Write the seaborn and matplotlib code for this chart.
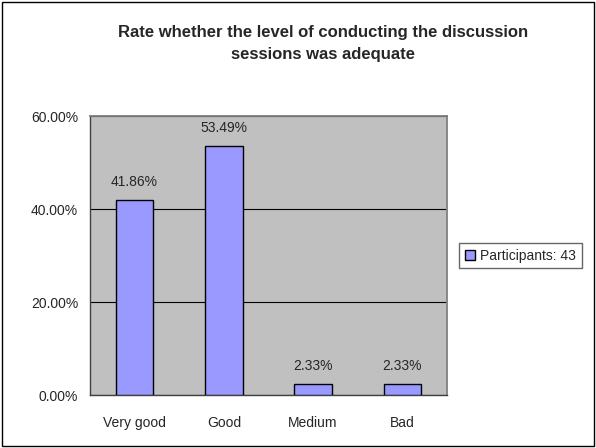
import numpy as np
import pandas as pd
import matplotlib.pyplot as plt
import seaborn as sns
from matplotlib.patches import Rectangle
from matplotlib.ticker import FixedLocator

categorii = ['Very good', 'Good', 'Medium', 'Bad']
procente = [41.86, 53.49, 2.33, 2.33]
etichete_y = ['0.00%', '20.00%', '40.00%', '60.00%']
valori_y = [0, 20, 40, 60]
serie = 'Participants: 43'

sns.set_style('white')
plt.rcParams['font.family'] = ['Liberation Sans', 'DejaVu Sans']

df = pd.DataFrame({'Categorie': categorii, 'Procent': procente})

fig = plt.figure(figsize=(5.96, 4.48), dpi=100)
ax = fig.add_axes([0.151, 0.1183, 0.599, 0.6227])
ax.set_facecolor('#C0C0C0')

sns.barplot(data=df, x='Categorie', y='Procent', color='#9999FF', width=0.42,
            edgecolor='black', linewidth=1, saturation=1, ax=ax, label=serie, zorder=3)

# etichete deasupra barelor
for i, v in enumerate(procente):
    ax.text(i, v + 2.5, f'{v:.2f}%', ha='center', va='bottom', fontsize=10)

ax.set_ylim(0, 60)
ax.set_xlim(-0.5, len(categorii) - 0.5)
ax.set_yticks(valori_y)
ax.set_yticklabels(etichete_y, fontsize=10)
ax.set_xticks(range(len(categorii)))
ax.set_xticklabels(categorii, fontsize=10)
ax.tick_params(axis='x', length=0, pad=15)
ax.tick_params(axis='y', length=5, direction='out', color='#404040', width=1)
ax.xaxis.set_minor_locator(FixedLocator(np.arange(-0.5, len(categorii), 1.0)))
ax.tick_params(axis='x', which='minor', length=5, direction='out', color='#404040', width=1)
ax.set_xlabel('')
ax.set_ylabel('')
ax.yaxis.grid(True, color='black', linewidth=0.8, zorder=1)
ax.set_axisbelow(True)
for s in ['left', 'bottom']:
    ax.spines[s].set_color('#404040')
    ax.spines[s].set_linewidth(1)
for s in ['top', 'right']:
    ax.spines[s].set_color('#808080')
    ax.spines[s].set_linewidth(1.3)

fig.suptitle('Rate whether the level of conducting the discussion\nsessions was adequate',
             fontsize=12, fontweight='bold', x=0.542, y=0.945, linespacing=1.6)

leg = ax.legend(loc='center left', bbox_to_anchor=(1.035, 0.5), frameon=True, fancybox=False,
                fontsize=10, handlelength=0.7, handleheight=0.7, handletextpad=0.4,
                borderpad=0.4, borderaxespad=0)
leg.get_frame().set_edgecolor('#404040')
leg.get_frame().set_linewidth(1)

# chenar exterior
fig.patches.append(Rectangle((0.004, 0.004), 0.992, 0.992, transform=fig.transFigure,
                             fill=False, edgecolor='black', linewidth=1))

fig.savefig('out.png', dpi=100)
plt.close(fig)
